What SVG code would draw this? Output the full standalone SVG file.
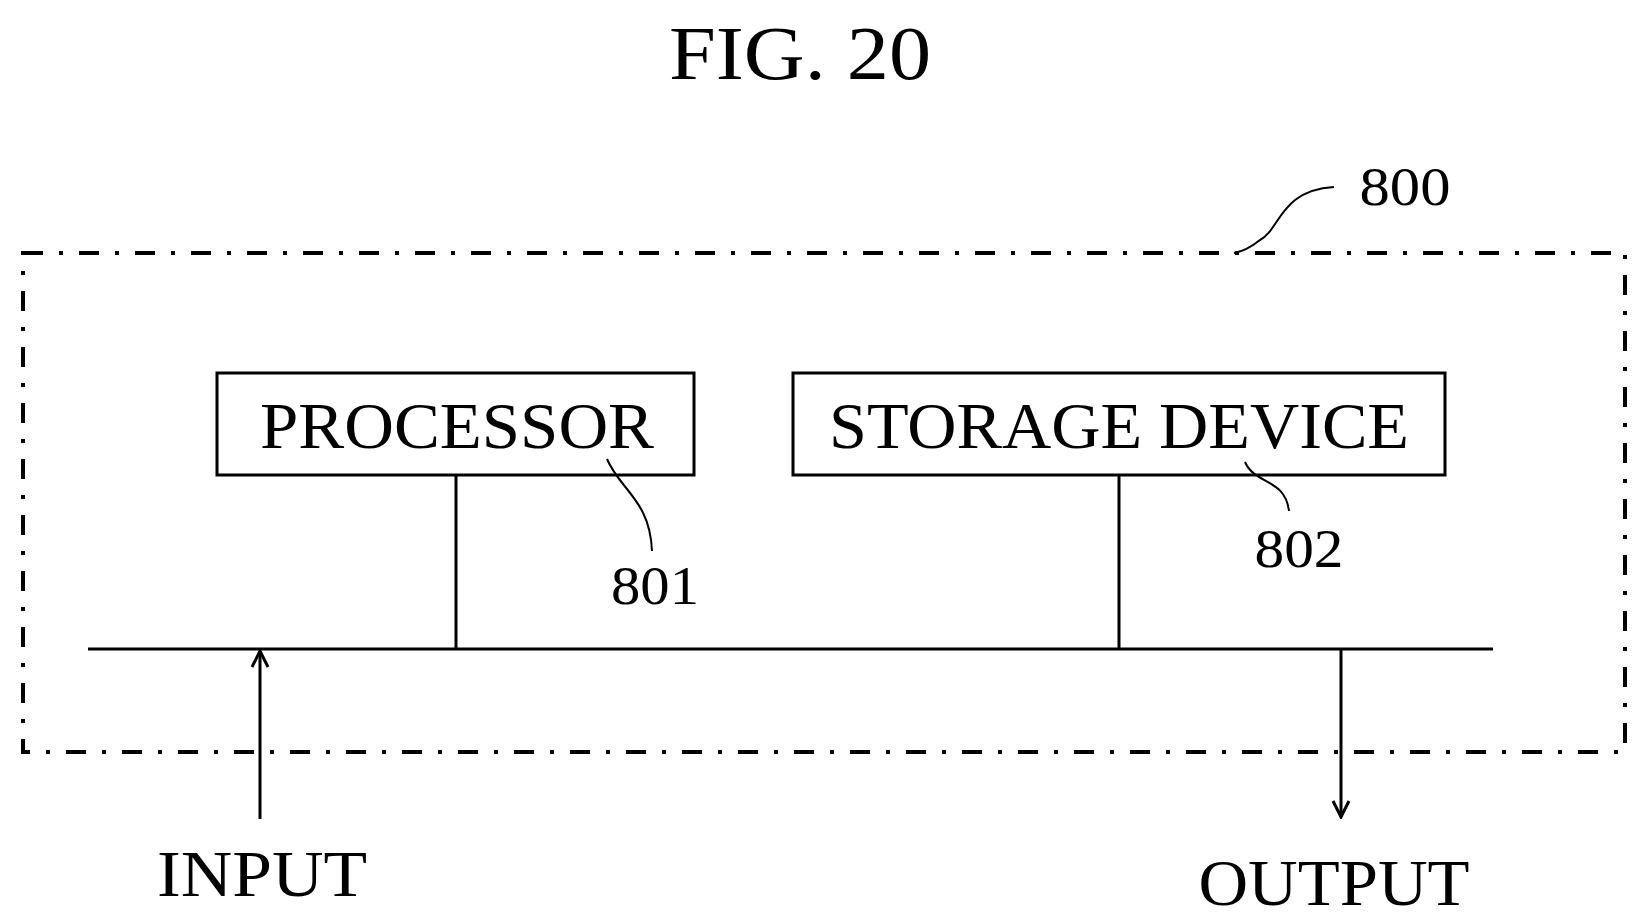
<svg xmlns="http://www.w3.org/2000/svg" width="1638" height="923" viewBox="0 0 1638 923">
<style>
text{font-family:"Liberation Serif","DejaVu Serif",serif;fill:#000}
.big{font-size:66px}
.num{font-size:54px}
.ln{stroke:#000;stroke-width:3;fill:none}
.thin{stroke:#000;stroke-width:2;fill:none}
</style>
<defs>
<marker id="ah" viewBox="0 0 20 20" refX="18" refY="10" markerWidth="20" markerHeight="20" markerUnits="userSpaceOnUse" orient="auto">
<path d="M2,2 L18,10 L2,18" fill="none" stroke="#000" stroke-width="3"/>
</marker>
</defs>
<rect width="1638" height="923" fill="#fff"/>
<text x="800" y="79" text-anchor="middle" font-size="76" textLength="262" lengthAdjust="spacingAndGlyphs">FIG. 20</text>
<g id="n800">
<rect x="23" y="253" width="1602" height="499" fill="none" stroke="#000" stroke-width="4" stroke-dasharray="20 16 4 16"/>
<path class="thin" d="M1334,187 C1280,190 1280,230 1260,240 C1250,248 1240,252 1234,253"/>
<text class="num" x="1405" y="205" text-anchor="middle" textLength="91" lengthAdjust="spacingAndGlyphs">800</text>
</g>
<g id="n801">
<rect x="217" y="373" width="477" height="102" fill="none" stroke="#000" stroke-width="3"/>
<text class="big" x="457" y="448" text-anchor="middle" textLength="394" lengthAdjust="spacingAndGlyphs">PROCESSOR</text>
<path class="thin" d="M607,459 C620,490 650,500 652,551"/>
<text class="num" x="655" y="604" text-anchor="middle" textLength="88" lengthAdjust="spacingAndGlyphs">801</text>
</g>
<g id="n802">
<rect x="793" y="373" width="652" height="102" fill="none" stroke="#000" stroke-width="3"/>
<text class="big" x="1119" y="448" text-anchor="middle" textLength="580" lengthAdjust="spacingAndGlyphs">STORAGE DEVICE</text>
<path class="thin" d="M1245,462 C1255,485 1285,478 1289,511"/>
<text class="num" x="1299" y="567" text-anchor="middle" textLength="89" lengthAdjust="spacingAndGlyphs">802</text>
</g>
<g id="io">
<text class="big" x="262" y="896" text-anchor="middle" textLength="210" lengthAdjust="spacingAndGlyphs">INPUT</text>
<text class="big" x="1334" y="905" text-anchor="middle" textLength="271" lengthAdjust="spacingAndGlyphs">OUTPUT</text>
</g>
<g id="connectors">
<line class="ln" x1="88" y1="649" x2="1493" y2="649"/>
<line class="ln" x1="456" y1="475" x2="456" y2="649"/>
<line class="ln" x1="1119" y1="475" x2="1119" y2="649"/>
<line class="ln" x1="260" y1="819" x2="260" y2="651" marker-end="url(#ah)"/>
<line class="ln" x1="1341" y1="649" x2="1341" y2="817" marker-end="url(#ah)"/>
</g>
</svg>
